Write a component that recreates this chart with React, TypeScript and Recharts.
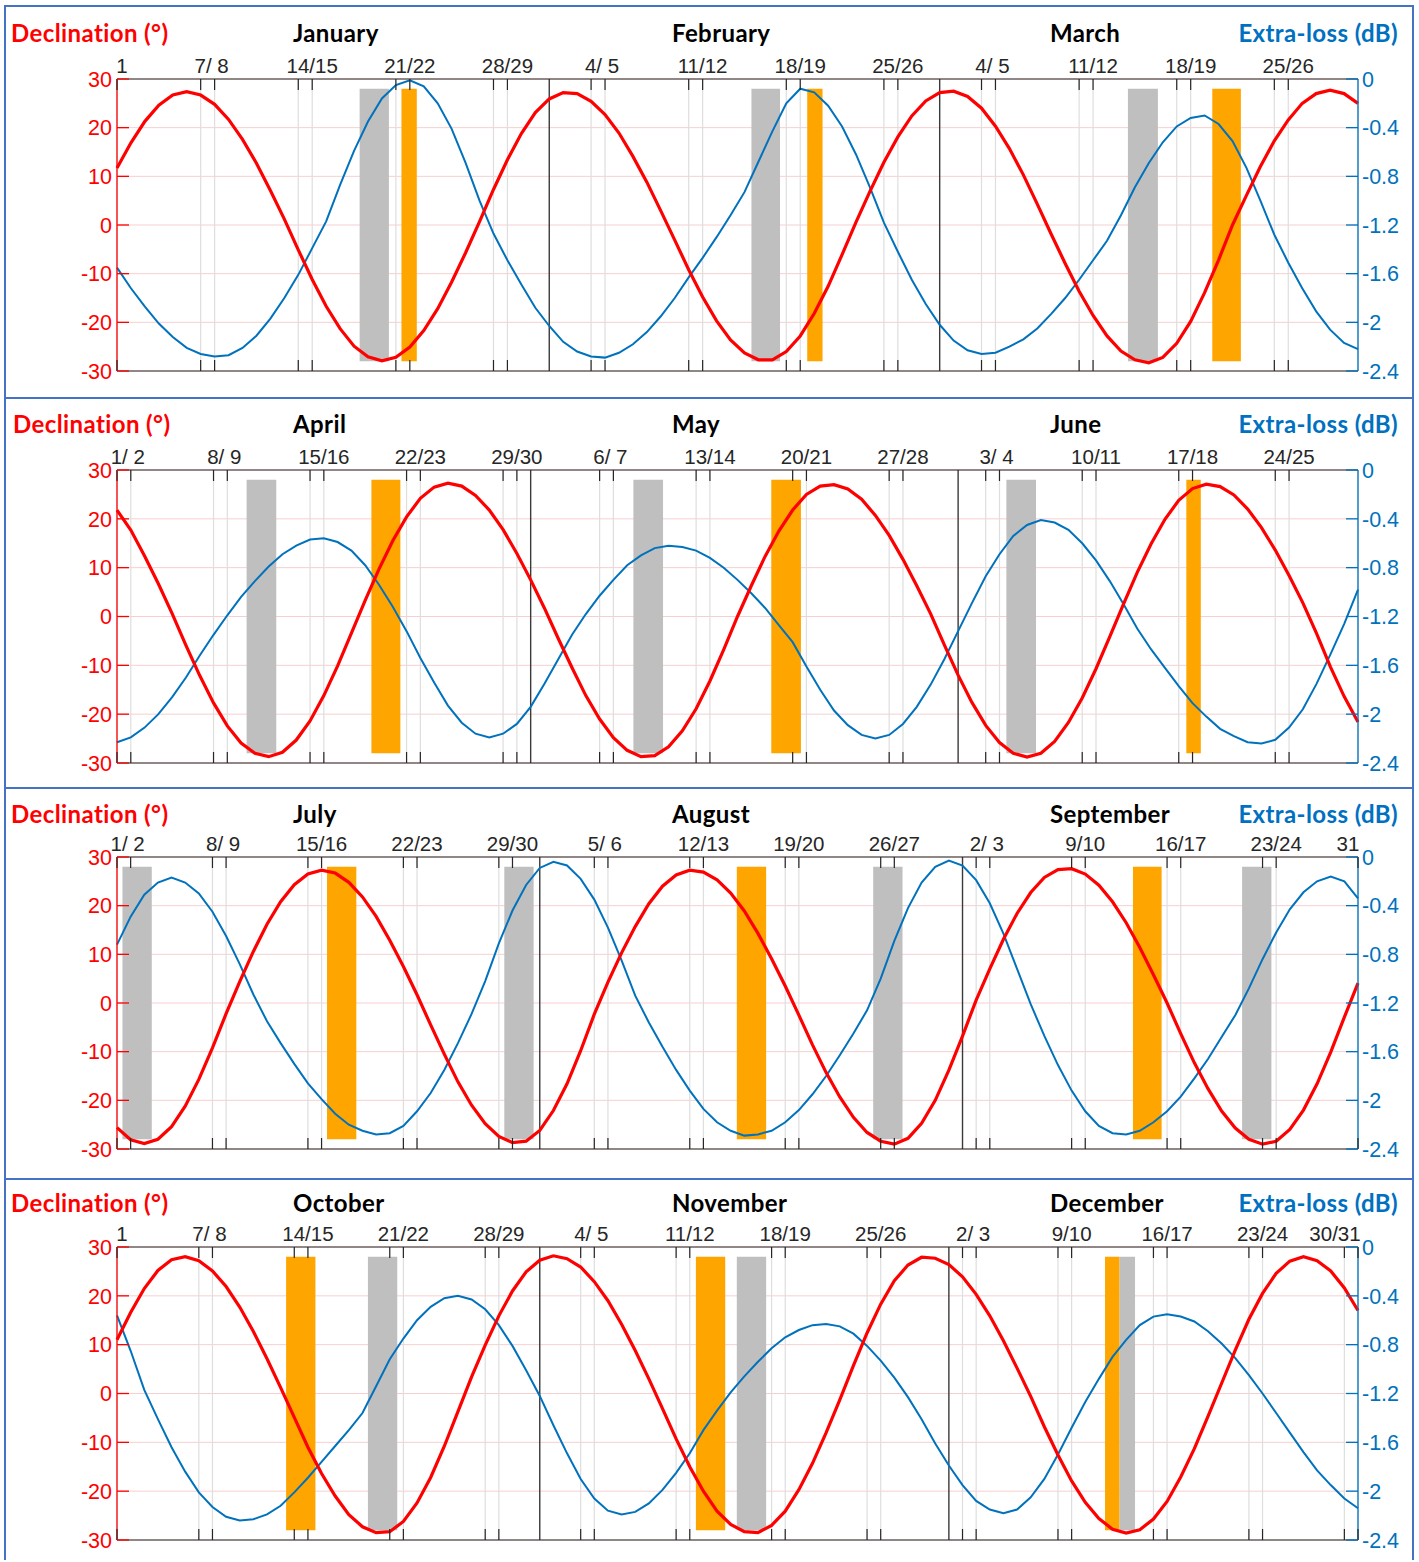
import React from "react";
import {
  ComposedChart,
  Line,
  XAxis,
  YAxis,
  CartesianGrid,
  ReferenceArea,
  ReferenceLine,
} from "recharts";

// ---------- data: one value per day (index 0 = first day of the quarter) ----------
// Lunar declination (°)
const declQ1 = [
  11.7, 16.9, 21.3, 24.6, 26.7, 27.4, 26.7, 24.8, 21.7, 17.6,
  12.7, 7.1, 1.2, -5.1, -11.2, -16.7, -21.3, -24.9, -27.1, -27.9,
  -27.2, -25.1, -21.7, -17.2, -11.7, -5.7, 0.7, 7.3, 13.4, 18.8,
  23.1, 25.9, 27.2, 27.0, 25.4, 22.7, 18.9, 14.1, 8.8, 2.9,
  -3.1, -9.2, -14.8, -19.7, -23.6, -26.3, -27.7, -27.7, -26.0, -22.8,
  -18.2, -12.6, -6.1, 0.6, 6.9, 12.9, 18.1, 22.4, 25.5, 27.2,
  27.5, 26.4, 24.0, 20.3, 15.7, 10.3, 4.3, -1.9, -7.9, -13.6,
  -18.6, -22.8, -25.9, -27.7, -28.3, -27.2, -24.3, -19.8, -13.9, -7.2,
  0.0, 6.1, 12.0, 17.3, 21.6, 25.0, 27.0, 27.7, 27.0, 25.0,
];
// Extra-loss (dB)
const lossQ1 = [
  -1.55, -1.72, -1.87, -2.01, -2.12, -2.21, -2.26, -2.28, -2.27, -2.21,
  -2.11, -1.97, -1.8, -1.61, -1.39, -1.17, -0.87, -0.59, -0.35, -0.16,
  -0.05, -0.01, -0.06, -0.2, -0.41, -0.69, -1.0, -1.27, -1.49, -1.69,
  -1.88, -2.03, -2.16, -2.24, -2.28, -2.29, -2.25, -2.18, -2.08, -1.95,
  -1.8, -1.63, -1.47, -1.3, -1.12, -0.93, -0.68, -0.43, -0.2, -0.08,
  -0.11, -0.22, -0.39, -0.62, -0.89, -1.18, -1.42, -1.65, -1.85, -2.02,
  -2.15, -2.23, -2.26, -2.25, -2.2, -2.14, -2.05, -1.93, -1.8, -1.65,
  -1.49, -1.33, -1.12, -0.89, -0.69, -0.52, -0.39, -0.32, -0.3, -0.37,
  -0.51, -0.73, -1.0, -1.28, -1.51, -1.72, -1.91, -2.06, -2.17, -2.22,
];

const declQ2 = [
  21.8, 17.7, 12.4, 6.7, 0.6, -5.9, -12.1, -17.7, -22.4, -25.9,
  -28.0, -28.7, -27.8, -25.3, -21.4, -16.2, -10.1, -3.4, 3.3, 9.7,
  15.5, 20.4, 24.2, 26.5, 27.3, 26.7, 24.8, 21.8, 17.8, 12.9,
  7.5, 1.7, -4.5, -10.5, -16.2, -21.0, -24.8, -27.4, -28.7, -28.5,
  -26.7, -23.4, -18.9, -13.2, -6.8, 0.0, 6.3, 12.3, 17.5, 21.8,
  25.0, 26.7, 27.0, 26.1, 24.0, 20.7, 16.6, 11.7, 6.3, 0.6,
  -5.8, -12.0, -17.6, -22.3, -25.8, -28.0, -28.8, -28.0, -25.6, -21.7,
  -16.7, -10.7, -4.1, 2.6, 9.1, 14.9, 19.9, 23.8, 26.2, 27.1,
  26.6, 24.9, 22.0, 18.2, 13.6, 8.4, 2.8, -3.5, -10.3, -16.4,
  -21.6,
];
const lossQ2 = [
  -2.23, -2.19, -2.11, -2.0, -1.86, -1.7, -1.52, -1.35, -1.19, -1.04,
  -0.91, -0.79, -0.69, -0.62, -0.57, -0.56, -0.59, -0.66, -0.78, -0.94,
  -1.12, -1.32, -1.54, -1.74, -1.93, -2.07, -2.16, -2.19, -2.16, -2.08,
  -1.94, -1.75, -1.55, -1.35, -1.18, -1.03, -0.9, -0.78, -0.7, -0.64,
  -0.62, -0.63, -0.66, -0.72, -0.8, -0.9, -1.01, -1.13, -1.27, -1.41,
  -1.61, -1.8, -1.97, -2.09, -2.17, -2.2, -2.17, -2.08, -1.94, -1.76,
  -1.55, -1.32, -1.09, -0.87, -0.69, -0.54, -0.45, -0.41, -0.43, -0.49,
  -0.6, -0.74, -0.91, -1.1, -1.3, -1.47, -1.62, -1.77, -1.91, -2.02,
  -2.12, -2.18, -2.23, -2.24, -2.21, -2.11, -1.96, -1.75, -1.51, -1.26,
  -0.98,
];

const declQ3 = [
  -25.6, -28.1, -28.9, -28.0, -25.4, -21.2, -15.7, -9.2, -2.2, 4.4,
  10.6, 16.2, 20.8, 24.3, 26.5, 27.3, 26.7, 24.8, 21.8, 17.8,
  12.9, 7.5, 1.7, -4.5, -10.5, -16.2, -21.0, -24.8, -27.4, -28.7,
  -28.4, -26.2, -22.1, -16.6, -9.8, -2.3, 4.3, 10.3, 15.7, 20.4,
  24.0, 26.3, 27.3, 26.9, 25.3, 22.6, 18.9, 14.3, 9.1, 3.5,
  -2.5, -8.6, -14.3, -19.3, -23.5, -26.6, -28.4, -29.0, -27.8, -24.7,
  -20.0, -13.8, -6.8, 0.6, 7.0, 13.1, 18.4, 22.7, 25.8, 27.4,
  27.6, 26.5, 24.2, 20.8, 16.5, 11.4, 5.8, 0.0, -6.3, -12.3,
  -17.6, -22.2, -25.7, -28.0, -29.0, -28.4, -26.0, -22.0, -16.6, -10.1,
  -2.9, 4.1,
];
const lossQ3 = [
  -0.72, -0.49, -0.31, -0.21, -0.17, -0.21, -0.3, -0.45, -0.65, -0.88,
  -1.13, -1.35, -1.53, -1.7, -1.86, -1.99, -2.11, -2.2, -2.25, -2.28,
  -2.27, -2.21, -2.09, -1.94, -1.75, -1.53, -1.29, -1.02, -0.71, -0.44,
  -0.23, -0.09, -0.04, -0.07, -0.18, -0.35, -0.58, -0.85, -1.14, -1.36,
  -1.56, -1.75, -1.92, -2.07, -2.18, -2.25, -2.29, -2.28, -2.25, -2.18,
  -2.08, -1.95, -1.8, -1.63, -1.45, -1.26, -1.0, -0.69, -0.42, -0.21,
  -0.08, -0.03, -0.07, -0.19, -0.38, -0.63, -0.92, -1.21, -1.47, -1.71,
  -1.92, -2.09, -2.21, -2.27, -2.28, -2.25, -2.18, -2.09, -1.97, -1.82,
  -1.66, -1.48, -1.3, -1.08, -0.84, -0.62, -0.43, -0.29, -0.2, -0.16,
  -0.2, -0.34,
];

const declQ4 = [
  11.0, 16.6, 21.5, 25.2, 27.4, 28.0, 27.2, 25.1, 21.9, 17.7,
  12.7, 7.1, 1.2, -4.9, -11.0, -16.4, -21.0, -24.8, -27.3, -28.5,
  -28.3, -26.2, -22.4, -17.2, -10.8, -3.7, 3.4, 9.9, 15.9, 21.0,
  24.9, 27.3, 28.2, 27.6, 25.9, 22.9, 19.0, 14.2, 8.8, 3.0,
  -3.1, -9.3, -15.0, -20.0, -24.1, -26.8, -28.3, -28.5, -27.0, -24.1,
  -19.7, -14.3, -8.0, -1.3, 5.7, 12.4, 18.3, 23.1, 26.3, 27.9,
  27.7, 26.4, 23.9, 20.3, 15.9, 10.8, 5.2, -0.6, -6.8, -12.6,
  -17.9, -22.3, -25.6, -27.8, -28.6, -27.9, -25.7, -22.1, -17.1, -11.3,
  -4.7, 2.1, 8.9, 15.2, 20.5, 24.6, 27.1, 28.0, 27.2, 25.1,
  21.6, 17.0,
];
const lossQ4 = [
  -0.56, -0.85, -1.17, -1.41, -1.64, -1.84, -2.01, -2.13, -2.21, -2.24,
  -2.23, -2.19, -2.12, -2.01, -1.89, -1.76, -1.63, -1.5, -1.36, -1.14,
  -0.92, -0.75, -0.6, -0.49, -0.42, -0.4, -0.43, -0.51, -0.64, -0.81,
  -1.01, -1.22, -1.46, -1.69, -1.9, -2.06, -2.16, -2.19, -2.17, -2.1,
  -1.99, -1.85, -1.69, -1.5, -1.34, -1.19, -1.06, -0.94, -0.83, -0.74,
  -0.68, -0.64, -0.63, -0.65, -0.71, -0.81, -0.93, -1.07, -1.23, -1.41,
  -1.61, -1.79, -1.95, -2.08, -2.15, -2.18, -2.15, -2.05, -1.9, -1.7,
  -1.48, -1.27, -1.08, -0.9, -0.76, -0.64, -0.57, -0.55, -0.57, -0.61,
  -0.69, -0.79, -0.91, -1.05, -1.2, -1.36, -1.52, -1.68, -1.83, -1.95,
  -2.06, -2.14,
];

// ---------- categories / ticks ----------
const monthsQ1 = ["January", "February", "March"];
const monthsQ2 = ["April", "May", "June"];
const monthsQ3 = ["July", "August", "September"];
const monthsQ4 = ["October", "November", "December"];

const tickDaysQ1 = [0, 6, 7, 13, 14, 20, 21, 27, 28, 34, 35, 41, 42, 48, 49, 55, 56, 62, 63, 69, 70, 76, 77, 83, 84];
const tickDaysQ2 = [0, 1, 7, 8, 14, 15, 21, 22, 28, 29, 35, 36, 42, 43, 49, 50, 56, 57, 63, 64, 70, 71, 77, 78, 84, 85];
const tickDaysQ3 = [0, 1, 7, 8, 14, 15, 21, 22, 28, 29, 35, 36, 42, 43, 49, 50, 56, 57, 63, 64, 70, 71, 77, 78, 84, 85, 91];
const tickDaysQ4 = [0, 6, 7, 13, 14, 20, 21, 27, 28, 34, 35, 41, 42, 48, 49, 55, 56, 62, 63, 69, 70, 76, 77, 83, 84, 90, 91];

const tickLabelsQ1: [number, string][] = [
  [0, "1"], [7, "7/ 8"], [14, "14/15"], [21, "21/22"], [28, "28/29"], [35, "4/ 5"], [42, "11/12"],
  [49, "18/19"], [56, "25/26"], [63, "4/ 5"], [70, "11/12"], [77, "18/19"], [84, "25/26"],
];
const tickLabelsQ2: [number, string][] = [
  [1, "1/ 2"], [8, "8/ 9"], [15, "15/16"], [22, "22/23"], [29, "29/30"], [36, "6/ 7"], [43, "13/14"],
  [50, "20/21"], [57, "27/28"], [64, "3/ 4"], [71, "10/11"], [78, "17/18"], [85, "24/25"],
];
const tickLabelsQ3: [number, string][] = [
  [1, "1/ 2"], [8, "8/ 9"], [15, "15/16"], [22, "22/23"], [29, "29/30"], [36, "5/ 6"], [43, "12/13"],
  [50, "19/20"], [57, "26/27"], [64, "2/ 3"], [71, "9/10"], [78, "16/17"], [85, "23/24"], [91, "31"],
];
const tickLabelsQ4: [number, string][] = [
  [0, "1"], [7, "7/ 8"], [14, "14/15"], [21, "21/22"], [28, "28/29"], [35, "4/ 5"], [42, "11/12"],
  [49, "18/19"], [56, "25/26"], [63, "2/ 3"], [70, "9/10"], [77, "16/17"], [84, "23/24"], [91, "30/31"],
];

const monthStartsQ1 = [31, 59];
const monthStartsQ2 = [30, 61];
const monthStartsQ3 = [31, 62];
const monthStartsQ4 = [31, 61];

// highlighted periods [from, to] in days
const grayQ1 = [[17.4, 19.5], [45.5, 47.55], [72.5, 74.65]];
const orangeQ1 = [[20.4, 21.5], [49.5, 50.6], [78.55, 80.6]];
const grayQ2 = [[9.4, 11.55], [37.45, 39.6], [64.5, 66.65]];
const orangeQ2 = [[18.45, 20.55], [47.45, 49.6], [77.55, 78.6]];
const grayQ3 = [[0.4, 2.55], [28.4, 30.55], [55.45, 57.6], [82.5, 84.65]];
const orangeQ3 = [[15.4, 17.55], [45.45, 47.6], [74.5, 76.6]];
const grayQ4 = [[18.4, 20.55], [45.45, 47.6], [73.5, 74.65]];
const orangeQ4 = [[12.4, 14.55], [42.45, 44.6], [72.45, 73.5]];

const declTicks = [-30, -20, -10, 0, 10, 20, 30];
const lossTicks = [0, -0.4, -0.8, -1.2, -1.6, -2, -2.4];

// ---------- styling ----------
const ARIAL = "'Liberation Sans', Arial, Helvetica, sans-serif";
const CALIBRI = "Lato, Carlito, 'Open Sans', sans-serif";
const RED = "#FF0000";
const BLUE = "#0072BD";
const TITLE_BLUE = "#0070C0";
const CHART_W = 1419;
const PLOT_L = 117;
const PLOT_R = 1358;

type PanelCfg = {
  top: number;
  height: number;
  plotTop: number;
  plotBottom: number;
  titleY: number;
  declX: number;
  months: string[];
  decl: number[];
  loss: number[];
  tickDays: number[];
  tickLabels: [number, string][];
  monthStarts: number[];
  gray: number[][];
  orange: number[][];
};

const panels: PanelCfg[] = [
  { top: 6, height: 392, plotTop: 73, plotBottom: 365, titleY: 35.7, declX: 11, months: monthsQ1, decl: declQ1, loss: lossQ1, tickDays: tickDaysQ1, tickLabels: tickLabelsQ1, monthStarts: monthStartsQ1, gray: grayQ1, orange: orangeQ1 },
  { top: 398, height: 390, plotTop: 72, plotBottom: 365, titleY: 35.3, declX: 13, months: monthsQ2, decl: declQ2, loss: lossQ2, tickDays: tickDaysQ2, tickLabels: tickLabelsQ2, monthStarts: monthStartsQ2, gray: grayQ2, orange: orangeQ2 },
  { top: 788, height: 391, plotTop: 69, plotBottom: 361, titleY: 35.3, declX: 11, months: monthsQ3, decl: declQ3, loss: lossQ3, tickDays: tickDaysQ3, tickLabels: tickLabelsQ3, monthStarts: monthStartsQ3, gray: grayQ3, orange: orangeQ3 },
  { top: 1179, height: 381, plotTop: 68, plotBottom: 361, titleY: 32.7, declX: 11, months: monthsQ4, decl: declQ4, loss: lossQ4, tickDays: tickDaysQ4, tickLabels: tickLabelsQ4, monthStarts: monthStartsQ4, gray: grayQ4, orange: orangeQ4 },
];

const TOP_AXIS_H = 20;
const BOTTOM_AXIS_H = 10;
const LEFT_AXIS_W = 60;
const RIGHT_AXIS_W = 55;

function makeTopTick(labelMap: Map<number, string>) {
  return (props: any) => {
    const { x, y, payload } = props;
    const v = payload.value;
    const lbl = labelMap.get(v);
    let dx = 0;
    if (lbl) {
      if (v === 0) dx = 5;
      else if (lbl === "31") dx = -10;
      else if (lbl === "30/31") dx = -23;
      else if (lbl.indexOf(" ") >= 0) dx = -3;
    }
    return (
      <g>
        <line x1={x} x2={x} y1={y} y2={y + 11} stroke="#262626" strokeWidth={1.2} />
        {lbl ? (
          <text x={x + dx} y={y - 6.5} textAnchor="middle" fontSize={20.5} fill="#262626" fontFamily={ARIAL}>
            {lbl}
          </text>
        ) : null}
      </g>
    );
  };
}

const BottomTick = (props: any) => {
  const { x, y } = props;
  return <line x1={x} x2={x} y1={y} y2={y - 11} stroke="#262626" strokeWidth={1.2} />;
};

const LeftTick = (props: any) => {
  const { x, y, payload } = props;
  return (
    <g>
      <line x1={x} x2={x + 12} y1={y} y2={y} stroke={RED} strokeWidth={1.3} />
      <text x={x - 5} y={y} dy="0.36em" textAnchor="end" fontSize={21.5} fill={RED} fontFamily={ARIAL}>
        {String(payload.value)}
      </text>
    </g>
  );
};

const RightTick = (props: any) => {
  const { x, y, payload } = props;
  return (
    <g>
      <line x1={x} x2={x - 12} y1={y} y2={y} stroke={BLUE} strokeWidth={1.3} />
      <text x={x + 4} y={y} dy="0.36em" textAnchor="start" fontSize={21.5} fill={BLUE} fontFamily={ARIAL}>
        {String(payload.value)}
      </text>
    </g>
  );
};

function Panel({ cfg }: { cfg: PanelCfg }) {
  const rows = cfg.decl.map((d, i) => ({ t: i, decl: d, loss: cfg.loss[i] }));
  const n = cfg.decl.length - 1;
  const labelMap = new Map<number, string>(cfg.tickLabels);
  const TopTick = makeTopTick(labelMap);
  const margin = {
    top: cfg.plotTop - TOP_AXIS_H,
    bottom: cfg.height - cfg.plotBottom - BOTTOM_AXIS_H,
    left: PLOT_L - LEFT_AXIS_W,
    right: CHART_W - PLOT_R - RIGHT_AXIS_W,
  };
  const monthX = [293, 672, 1050];
  const titleStyle = { letterSpacing: "0.4px" };
  return (
    <div style={{ position: "absolute", left: 0, top: cfg.top, width: CHART_W, height: cfg.height }}>
      <div
        style={{
          position: "absolute",
          left: 4,
          top: -1,
          width: 1410,
          height: cfg.height + 1,
          borderTop: "2px solid #4472C4",
          borderLeft: "2px solid #4472C4",
          borderRight: "2px solid #4472C4",
          boxSizing: "border-box",
        }}
      />
      <div style={{ position: "absolute", left: 0, top: 0 }}>
        <ComposedChart width={CHART_W} height={cfg.height} data={rows} margin={margin}>
          <CartesianGrid vertical={false} stroke="#f7cfcf" strokeWidth={1} />
          <CartesianGrid horizontal={false} stroke="#dedede" strokeWidth={1.2} />
          <XAxis
            dataKey="t"
            type="number"
            orientation="top"
            domain={[0, n]}
            ticks={cfg.tickDays}
            interval={0}
            height={TOP_AXIS_H}
            tickLine={false}
            tickSize={0}
            tickMargin={0}
            axisLine={{ stroke: "#262626", strokeWidth: 1.2 }}
            tick={TopTick}
          />
          <XAxis
            xAxisId="b"
            dataKey="t"
            type="number"
            orientation="bottom"
            domain={[0, n]}
            ticks={cfg.tickDays}
            interval={0}
            height={BOTTOM_AXIS_H}
            tickLine={false}
            tickSize={0}
            tickMargin={0}
            axisLine={{ stroke: "#262626", strokeWidth: 1.2 }}
            tick={BottomTick}
          />
          <YAxis
            type="number"
            orientation="left"
            domain={[-30, 30]}
            ticks={declTicks}
            interval={0}
            width={LEFT_AXIS_W}
            tickLine={false}
            tickSize={0}
            tickMargin={0}
            axisLine={{ stroke: RED, strokeWidth: 1.3 }}
            tick={LeftTick}
          />
          <YAxis
            yAxisId="r"
            type="number"
            orientation="right"
            domain={[-2.4, 0]}
            ticks={lossTicks}
            interval={0}
            width={RIGHT_AXIS_W}
            tickLine={false}
            tickSize={0}
            tickMargin={0}
            axisLine={{ stroke: BLUE, strokeWidth: 1.3 }}
            tick={RightTick}
          />
          {cfg.gray.map((g, i) => (
            <ReferenceArea key={"g" + i} x1={g[0]} x2={g[1]} y1={-28} y2={28} fill="#BFBFBF" fillOpacity={1} stroke="none" />
          ))}
          {cfg.orange.map((g, i) => (
            <ReferenceArea key={"o" + i} x1={g[0]} x2={g[1]} y1={-28} y2={28} fill="#FFA500" fillOpacity={1} stroke="none" />
          ))}
          {cfg.monthStarts.map((m) => (
            <ReferenceLine key={"m" + m} x={m} stroke="#3a3a3a" strokeWidth={1.4} />
          ))}
          <Line
            yAxisId="r"
            dataKey="loss"
            type="linear"
            stroke={BLUE}
            strokeWidth={2}
            dot={false}
            activeDot={false}
            isAnimationActive={false}
          />
          <Line
            dataKey="decl"
            type="linear"
            stroke={RED}
            strokeWidth={3.2}
            dot={false}
            activeDot={false}
            isAnimationActive={false}
          />
        </ComposedChart>
      </div>
      <svg
        width={CHART_W}
        height={cfg.height}
        style={{ position: "absolute", left: 0, top: 0, pointerEvents: "none" }}
      >
        <text x={cfg.declX} y={cfg.titleY} fontFamily={CALIBRI} fontWeight={700} fontSize={24} fill={RED} style={titleStyle}>
          Declination (°)
        </text>
        {cfg.months.map((m, i) => (
          <text key={m} x={monthX[i]} y={cfg.titleY} fontFamily={CALIBRI} fontWeight={700} fontSize={24} fill="#000" style={titleStyle}>
            {m}
          </text>
        ))}
        <text x={1398} y={cfg.titleY} textAnchor="end" fontFamily={CALIBRI} fontWeight={700} fontSize={24} fill={TITLE_BLUE} style={titleStyle}>
          Extra-loss (dB)
        </text>
      </svg>
    </div>
  );
}

export default function App() {
  return (
    <div style={{ position: "absolute", left: 0, top: 0, width: CHART_W, height: 1560, background: "#fff", overflow: "hidden" }}>
      {panels.map((p, i) => (
        <Panel key={i} cfg={p} />
      ))}
    </div>
  );
}
